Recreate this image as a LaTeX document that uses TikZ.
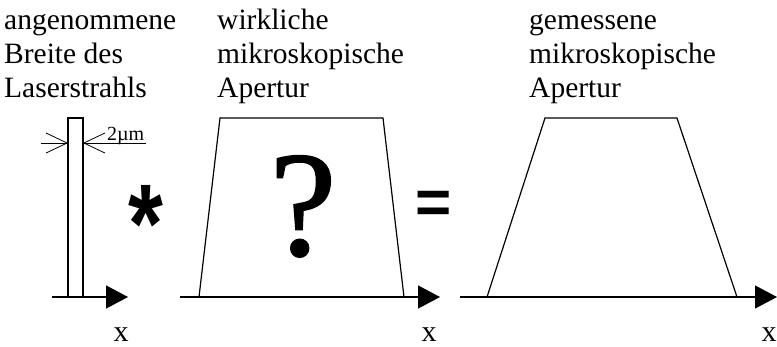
\documentclass[tikz,border=0pt]{standalone}
\usepackage{fontspec}
\setmainfont{Liberation Serif}
\newfontfamily\symsans{Liberation Sans}
\newfontfamily\qfont[FakeBold=1.2]{Liberation Serif}
\usetikzlibrary{arrows.meta}
\tikzset{
  lbl/.style={anchor=base west, inner sep=0pt, font=\fontsize{29.5}{34}\selectfont},
  xlbl/.style={anchor=base, inner sep=0pt, font=\fontsize{30}{34}\selectfont},
  axis/.style={line width=1.3pt, -{Triangle[length=22pt,width=23pt]}},
  outline/.style={line width=1.2pt},
  dimarrow/.style={line width=0.8pt, -{Straight Barb[length=21pt,width=20pt,line width=0.8pt]}},
  opsym/.style={anchor=base, inner sep=0pt, font=\symsans\bfseries\fontsize{62}{62}\selectfont}
}
\begin{document}
\begin{tikzpicture}[x=1pt,y=-1pt]
\useasboundingbox (0,0) rectangle (777,346);
% labels
\node[lbl] (a1) at (4,29) {angenommene};
\node[lbl] (a2) at (4,63) {Breite des};
\node[lbl] (a3) at (4,97) {Laserstrahls};
\node[lbl] (b1) at (217,29) {wirkliche};
\node[lbl] (b2) at (217,63) {mikroskopische};
\node[lbl] (b3) at (217,97) {Apertur};
\node[lbl] (c1) at (529,29) {gemessene};
\node[lbl] (c2) at (529,63) {mikroskopische};
\node[lbl] (c3) at (529,97) {Apertur};
% axes
\coordinate (s1) at (52,297);  \coordinate (e1) at (128,297);
\coordinate (s2) at (180,297); \coordinate (e2) at (440,297);
\coordinate (s3) at (460,297); \coordinate (e3) at (777,297);
\draw[axis] (s1) -- (e1);
\draw[axis] (s2) -- (e2);
\draw[axis] (s3) -- (e3);
\node[xlbl] (x1) at (121,341) {x};
\node[xlbl] (x2) at (429,341) {x};
\node[xlbl] (x3) at (769,341) {x};
% laser beam bar
\coordinate (bl) at (68,297); \coordinate (tr) at (83,118);
\draw[outline] (bl) rectangle (tr);
\coordinate (dL) at (41,143); \coordinate (dLe) at (68,143);
\coordinate (dR) at (146,143); \coordinate (dRe) at (83,143);
\draw[dimarrow] (dL) -- (dLe);
\draw[dimarrow] (dR) -- (dRe);
\node[anchor=base west, inner sep=0pt, font=\fontsize{20}{20}\selectfont] (dim) at (107,140) {2µm};
% operator symbols
\node[opsym] (star) at (146,262) {\scalebox{0.8}[1]{\fontsize{112}{112}\selectfont *}};
\node[opsym] (eq) at (434,223) {=};
% real aperture
\coordinate (p1) at (199,297); \coordinate (p2) at (220,118);
\coordinate (p3) at (383,118); \coordinate (p4) at (404,297);
\draw[outline] (p1) -- (p2) -- (p3) -- (p4);
\node[anchor=base, inner sep=0pt, font=\qfont\fontsize{150}{150}\selectfont] (q) at (303,255) {?};
% measured aperture
\coordinate (m1) at (487,297); \coordinate (m2) at (545,118);
\coordinate (m3) at (677,118); \coordinate (m4) at (737,297);
\draw[outline] (m1) -- (m2) -- (m3) -- (m4);
\end{tikzpicture}
\end{document}
